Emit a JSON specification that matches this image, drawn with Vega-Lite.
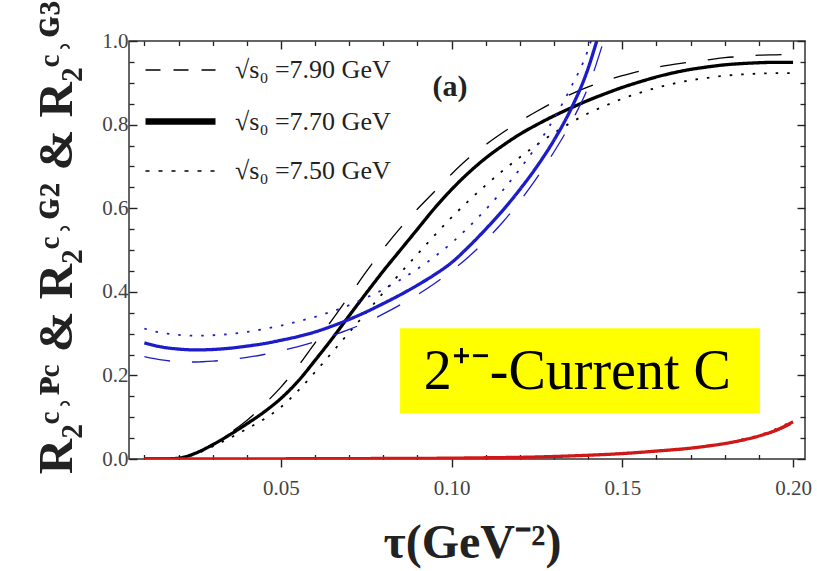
{
  "$schema": "https://vega.github.io/schema/vega-lite/v6.json",
  "width": 676,
  "height": 418,
  "autosize": "none",
  "padding": {"left": 129, "top": 41, "right": 12, "bottom": 112},
  "background": "white",
  "config": {
    "view": {"stroke": "#333", "strokeWidth": 1.5},
    "axis": {"grid": false, "domain": false, "labelFont": "Liberation Serif", "labelFontSize": 21, "labelColor": "#444", "titleFont": "Liberation Serif", "titleFontWeight": "bold", "titleColor": "#222"}
  },
  "datasets": {
    "curves": [
      {"x":0.01,"y":0,"c":"black","s":"7.70"},{"x":0.015,"y":0,"c":"black","s":"7.70"},{"x":0.02,"y":0.002,"c":"black","s":"7.70"},{"x":0.025,"y":0.014,"c":"black","s":"7.70"},{"x":0.03,"y":0.034,"c":"black","s":"7.70"},{"x":0.035,"y":0.058,"c":"black","s":"7.70"},{"x":0.04,"y":0.084,"c":"black","s":"7.70"},{"x":0.045,"y":0.112,"c":"black","s":"7.70"},{"x":0.05,"y":0.145,"c":"black","s":"7.70"},{"x":0.055,"y":0.186,"c":"black","s":"7.70"},{"x":0.06,"y":0.236,"c":"black","s":"7.70"},{"x":0.065,"y":0.288,"c":"black","s":"7.70"},{"x":0.07,"y":0.343,"c":"black","s":"7.70"},{"x":0.075,"y":0.397,"c":"black","s":"7.70"},{"x":0.08,"y":0.45,"c":"black","s":"7.70"},{"x":0.085,"y":0.5,"c":"black","s":"7.70"},{"x":0.09,"y":0.55,"c":"black","s":"7.70"},{"x":0.095,"y":0.6,"c":"black","s":"7.70"},{"x":0.1,"y":0.645,"c":"black","s":"7.70"},{"x":0.105,"y":0.685,"c":"black","s":"7.70"},{"x":0.11,"y":0.72,"c":"black","s":"7.70"},{"x":0.115,"y":0.75,"c":"black","s":"7.70"},{"x":0.12,"y":0.777,"c":"black","s":"7.70"},{"x":0.125,"y":0.8,"c":"black","s":"7.70"},{"x":0.13,"y":0.821,"c":"black","s":"7.70"},{"x":0.135,"y":0.84,"c":"black","s":"7.70"},{"x":0.14,"y":0.858,"c":"black","s":"7.70"},{"x":0.145,"y":0.874,"c":"black","s":"7.70"},{"x":0.15,"y":0.889,"c":"black","s":"7.70"},{"x":0.155,"y":0.902,"c":"black","s":"7.70"},{"x":0.16,"y":0.914,"c":"black","s":"7.70"},{"x":0.165,"y":0.924,"c":"black","s":"7.70"},{"x":0.17,"y":0.932,"c":"black","s":"7.70"},{"x":0.175,"y":0.938,"c":"black","s":"7.70"},{"x":0.18,"y":0.943,"c":"black","s":"7.70"},{"x":0.185,"y":0.946,"c":"black","s":"7.70"},{"x":0.19,"y":0.948,"c":"black","s":"7.70"},{"x":0.195,"y":0.949,"c":"black","s":"7.70"},{"x":0.2,"y":0.949,"c":"black","s":"7.70"},

      {"x":0.01,"y":0,"c":"black","s":"7.90"},{"x":0.015,"y":0,"c":"black","s":"7.90"},{"x":0.02,"y":0.002,"c":"black","s":"7.90"},{"x":0.025,"y":0.015,"c":"black","s":"7.90"},{"x":0.03,"y":0.036,"c":"black","s":"7.90"},{"x":0.035,"y":0.062,"c":"black","s":"7.90"},{"x":0.04,"y":0.092,"c":"black","s":"7.90"},{"x":0.045,"y":0.13,"c":"black","s":"7.90"},{"x":0.05,"y":0.172,"c":"black","s":"7.90"},{"x":0.055,"y":0.222,"c":"black","s":"7.90"},{"x":0.06,"y":0.278,"c":"black","s":"7.90"},{"x":0.065,"y":0.333,"c":"black","s":"7.90"},{"x":0.07,"y":0.39,"c":"black","s":"7.90"},{"x":0.075,"y":0.448,"c":"black","s":"7.90"},{"x":0.08,"y":0.503,"c":"black","s":"7.90"},{"x":0.085,"y":0.553,"c":"black","s":"7.90"},{"x":0.09,"y":0.598,"c":"black","s":"7.90"},{"x":0.095,"y":0.64,"c":"black","s":"7.90"},{"x":0.1,"y":0.682,"c":"black","s":"7.90"},{"x":0.105,"y":0.72,"c":"black","s":"7.90"},{"x":0.11,"y":0.752,"c":"black","s":"7.90"},{"x":0.115,"y":0.781,"c":"black","s":"7.90"},{"x":0.12,"y":0.808,"c":"black","s":"7.90"},{"x":0.125,"y":0.832,"c":"black","s":"7.90"},{"x":0.13,"y":0.854,"c":"black","s":"7.90"},{"x":0.135,"y":0.873,"c":"black","s":"7.90"},{"x":0.14,"y":0.89,"c":"black","s":"7.90"},{"x":0.145,"y":0.905,"c":"black","s":"7.90"},{"x":0.15,"y":0.917,"c":"black","s":"7.90"},{"x":0.155,"y":0.928,"c":"black","s":"7.90"},{"x":0.16,"y":0.937,"c":"black","s":"7.90"},{"x":0.165,"y":0.944,"c":"black","s":"7.90"},{"x":0.17,"y":0.95,"c":"black","s":"7.90"},{"x":0.175,"y":0.955,"c":"black","s":"7.90"},{"x":0.18,"y":0.96,"c":"black","s":"7.90"},{"x":0.185,"y":0.963,"c":"black","s":"7.90"},{"x":0.19,"y":0.966,"c":"black","s":"7.90"},{"x":0.195,"y":0.967,"c":"black","s":"7.90"},{"x":0.2,"y":0.968,"c":"black","s":"7.90"},

      {"x":0.01,"y":0,"c":"black","s":"7.50"},{"x":0.015,"y":0,"c":"black","s":"7.50"},{"x":0.02,"y":0.002,"c":"black","s":"7.50"},{"x":0.025,"y":0.012,"c":"black","s":"7.50"},{"x":0.03,"y":0.03,"c":"black","s":"7.50"},{"x":0.035,"y":0.05,"c":"black","s":"7.50"},{"x":0.04,"y":0.072,"c":"black","s":"7.50"},{"x":0.045,"y":0.095,"c":"black","s":"7.50"},{"x":0.05,"y":0.124,"c":"black","s":"7.50"},{"x":0.055,"y":0.163,"c":"black","s":"7.50"},{"x":0.06,"y":0.208,"c":"black","s":"7.50"},{"x":0.065,"y":0.255,"c":"black","s":"7.50"},{"x":0.07,"y":0.303,"c":"black","s":"7.50"},{"x":0.075,"y":0.35,"c":"black","s":"7.50"},{"x":0.08,"y":0.398,"c":"black","s":"7.50"},{"x":0.085,"y":0.445,"c":"black","s":"7.50"},{"x":0.09,"y":0.49,"c":"black","s":"7.50"},{"x":0.095,"y":0.535,"c":"black","s":"7.50"},{"x":0.1,"y":0.578,"c":"black","s":"7.50"},{"x":0.105,"y":0.618,"c":"black","s":"7.50"},{"x":0.11,"y":0.655,"c":"black","s":"7.50"},{"x":0.115,"y":0.69,"c":"black","s":"7.50"},{"x":0.12,"y":0.722,"c":"black","s":"7.50"},{"x":0.125,"y":0.752,"c":"black","s":"7.50"},{"x":0.13,"y":0.78,"c":"black","s":"7.50"},{"x":0.135,"y":0.805,"c":"black","s":"7.50"},{"x":0.14,"y":0.827,"c":"black","s":"7.50"},{"x":0.145,"y":0.845,"c":"black","s":"7.50"},{"x":0.15,"y":0.862,"c":"black","s":"7.50"},{"x":0.155,"y":0.876,"c":"black","s":"7.50"},{"x":0.16,"y":0.888,"c":"black","s":"7.50"},{"x":0.165,"y":0.898,"c":"black","s":"7.50"},{"x":0.17,"y":0.906,"c":"black","s":"7.50"},{"x":0.175,"y":0.912,"c":"black","s":"7.50"},{"x":0.18,"y":0.917,"c":"black","s":"7.50"},{"x":0.185,"y":0.92,"c":"black","s":"7.50"},{"x":0.19,"y":0.922,"c":"black","s":"7.50"},{"x":0.195,"y":0.923,"c":"black","s":"7.50"},{"x":0.2,"y":0.923,"c":"black","s":"7.50"},

      {"x":0.01,"y":0.278,"c":"blue","s":"7.70"},{"x":0.015,"y":0.268,"c":"blue","s":"7.70"},{"x":0.02,"y":0.263,"c":"blue","s":"7.70"},{"x":0.025,"y":0.261,"c":"blue","s":"7.70"},{"x":0.03,"y":0.262,"c":"blue","s":"7.70"},{"x":0.035,"y":0.265,"c":"blue","s":"7.70"},{"x":0.04,"y":0.27,"c":"blue","s":"7.70"},{"x":0.045,"y":0.276,"c":"blue","s":"7.70"},{"x":0.05,"y":0.284,"c":"blue","s":"7.70"},{"x":0.055,"y":0.293,"c":"blue","s":"7.70"},{"x":0.06,"y":0.304,"c":"blue","s":"7.70"},{"x":0.065,"y":0.318,"c":"blue","s":"7.70"},{"x":0.07,"y":0.334,"c":"blue","s":"7.70"},{"x":0.075,"y":0.352,"c":"blue","s":"7.70"},{"x":0.08,"y":0.372,"c":"blue","s":"7.70"},{"x":0.085,"y":0.393,"c":"blue","s":"7.70"},{"x":0.09,"y":0.416,"c":"blue","s":"7.70"},{"x":0.095,"y":0.441,"c":"blue","s":"7.70"},{"x":0.1,"y":0.47,"c":"blue","s":"7.70"},{"x":0.105,"y":0.508,"c":"blue","s":"7.70"},{"x":0.11,"y":0.55,"c":"blue","s":"7.70"},{"x":0.115,"y":0.595,"c":"blue","s":"7.70"},{"x":0.12,"y":0.645,"c":"blue","s":"7.70"},{"x":0.125,"y":0.7,"c":"blue","s":"7.70"},{"x":0.13,"y":0.763,"c":"blue","s":"7.70"},{"x":0.135,"y":0.838,"c":"blue","s":"7.70"},{"x":0.14,"y":0.935,"c":"blue","s":"7.70"},{"x":0.1425,"y":1.0,"c":"blue","s":"7.70"},

      {"x":0.01,"y":0.312,"c":"blue","s":"7.50"},{"x":0.015,"y":0.302,"c":"blue","s":"7.50"},{"x":0.02,"y":0.297,"c":"blue","s":"7.50"},{"x":0.025,"y":0.295,"c":"blue","s":"7.50"},{"x":0.03,"y":0.296,"c":"blue","s":"7.50"},{"x":0.035,"y":0.299,"c":"blue","s":"7.50"},{"x":0.04,"y":0.304,"c":"blue","s":"7.50"},{"x":0.045,"y":0.311,"c":"blue","s":"7.50"},{"x":0.05,"y":0.319,"c":"blue","s":"7.50"},{"x":0.055,"y":0.329,"c":"blue","s":"7.50"},{"x":0.06,"y":0.34,"c":"blue","s":"7.50"},{"x":0.065,"y":0.353,"c":"blue","s":"7.50"},{"x":0.07,"y":0.368,"c":"blue","s":"7.50"},{"x":0.075,"y":0.386,"c":"blue","s":"7.50"},{"x":0.08,"y":0.406,"c":"blue","s":"7.50"},{"x":0.085,"y":0.429,"c":"blue","s":"7.50"},{"x":0.09,"y":0.455,"c":"blue","s":"7.50"},{"x":0.095,"y":0.484,"c":"blue","s":"7.50"},{"x":0.1,"y":0.517,"c":"blue","s":"7.50"},{"x":0.105,"y":0.555,"c":"blue","s":"7.50"},{"x":0.11,"y":0.597,"c":"blue","s":"7.50"},{"x":0.115,"y":0.643,"c":"blue","s":"7.50"},{"x":0.12,"y":0.694,"c":"blue","s":"7.50"},{"x":0.125,"y":0.75,"c":"blue","s":"7.50"},{"x":0.13,"y":0.815,"c":"blue","s":"7.50"},{"x":0.135,"y":0.89,"c":"blue","s":"7.50"},{"x":0.14,"y":0.98,"c":"blue","s":"7.50"},{"x":0.1408,"y":1.0,"c":"blue","s":"7.50"},

      {"x":0.01,"y":0.245,"c":"blue","s":"7.90"},{"x":0.015,"y":0.237,"c":"blue","s":"7.90"},{"x":0.02,"y":0.233,"c":"blue","s":"7.90"},{"x":0.025,"y":0.232,"c":"blue","s":"7.90"},{"x":0.03,"y":0.234,"c":"blue","s":"7.90"},{"x":0.035,"y":0.238,"c":"blue","s":"7.90"},{"x":0.04,"y":0.243,"c":"blue","s":"7.90"},{"x":0.045,"y":0.25,"c":"blue","s":"7.90"},{"x":0.05,"y":0.259,"c":"blue","s":"7.90"},{"x":0.055,"y":0.269,"c":"blue","s":"7.90"},{"x":0.06,"y":0.281,"c":"blue","s":"7.90"},{"x":0.065,"y":0.295,"c":"blue","s":"7.90"},{"x":0.07,"y":0.31,"c":"blue","s":"7.90"},{"x":0.075,"y":0.327,"c":"blue","s":"7.90"},{"x":0.08,"y":0.347,"c":"blue","s":"7.90"},{"x":0.085,"y":0.369,"c":"blue","s":"7.90"},{"x":0.09,"y":0.393,"c":"blue","s":"7.90"},{"x":0.095,"y":0.42,"c":"blue","s":"7.90"},{"x":0.1,"y":0.45,"c":"blue","s":"7.90"},{"x":0.105,"y":0.484,"c":"blue","s":"7.90"},{"x":0.11,"y":0.523,"c":"blue","s":"7.90"},{"x":0.115,"y":0.567,"c":"blue","s":"7.90"},{"x":0.12,"y":0.617,"c":"blue","s":"7.90"},{"x":0.125,"y":0.673,"c":"blue","s":"7.90"},{"x":0.13,"y":0.735,"c":"blue","s":"7.90"},{"x":0.135,"y":0.805,"c":"blue","s":"7.90"},{"x":0.14,"y":0.89,"c":"blue","s":"7.90"},{"x":0.1445,"y":1.0,"c":"blue","s":"7.90"},

      {"x":0.01,"y":0,"c":"red","s":"7.70"},{"x":0.03,"y":0,"c":"red","s":"7.70"},{"x":0.05,"y":0.0005,"c":"red","s":"7.70"},{"x":0.07,"y":0.001,"c":"red","s":"7.70"},{"x":0.09,"y":0.0015,"c":"red","s":"7.70"},{"x":0.1,"y":0.002,"c":"red","s":"7.70"},{"x":0.11,"y":0.003,"c":"red","s":"7.70"},{"x":0.12,"y":0.004,"c":"red","s":"7.70"},{"x":0.13,"y":0.006,"c":"red","s":"7.70"},{"x":0.14,"y":0.009,"c":"red","s":"7.70"},{"x":0.15,"y":0.013,"c":"red","s":"7.70"},{"x":0.16,"y":0.019,"c":"red","s":"7.70"},{"x":0.17,"y":0.026,"c":"red","s":"7.70"},{"x":0.175,"y":0.031,"c":"red","s":"7.70"},{"x":0.18,"y":0.037,"c":"red","s":"7.70"},{"x":0.185,"y":0.045,"c":"red","s":"7.70"},{"x":0.19,"y":0.055,"c":"red","s":"7.70"},{"x":0.195,"y":0.069,"c":"red","s":"7.70"},{"x":0.2,"y":0.089,"c":"red","s":"7.70"},

      {"x":0.01,"y":0,"c":"red","s":"7.90"},{"x":0.03,"y":0,"c":"red","s":"7.90"},{"x":0.05,"y":0.0005,"c":"red","s":"7.90"},{"x":0.07,"y":0.001,"c":"red","s":"7.90"},{"x":0.09,"y":0.0015,"c":"red","s":"7.90"},{"x":0.1,"y":0.002,"c":"red","s":"7.90"},{"x":0.11,"y":0.003,"c":"red","s":"7.90"},{"x":0.12,"y":0.004,"c":"red","s":"7.90"},{"x":0.13,"y":0.006,"c":"red","s":"7.90"},{"x":0.14,"y":0.009,"c":"red","s":"7.90"},{"x":0.15,"y":0.013,"c":"red","s":"7.90"},{"x":0.16,"y":0.018,"c":"red","s":"7.90"},{"x":0.17,"y":0.025,"c":"red","s":"7.90"},{"x":0.175,"y":0.03,"c":"red","s":"7.90"},{"x":0.18,"y":0.036,"c":"red","s":"7.90"},{"x":0.185,"y":0.043,"c":"red","s":"7.90"},{"x":0.19,"y":0.053,"c":"red","s":"7.90"},{"x":0.195,"y":0.066,"c":"red","s":"7.90"},{"x":0.2,"y":0.085,"c":"red","s":"7.90"},

      {"x":0.01,"y":0,"c":"red","s":"7.50"},{"x":0.03,"y":0,"c":"red","s":"7.50"},{"x":0.05,"y":0.0005,"c":"red","s":"7.50"},{"x":0.07,"y":0.001,"c":"red","s":"7.50"},{"x":0.09,"y":0.0015,"c":"red","s":"7.50"},{"x":0.1,"y":0.002,"c":"red","s":"7.50"},{"x":0.11,"y":0.003,"c":"red","s":"7.50"},{"x":0.12,"y":0.004,"c":"red","s":"7.50"},{"x":0.13,"y":0.006,"c":"red","s":"7.50"},{"x":0.14,"y":0.009,"c":"red","s":"7.50"},{"x":0.15,"y":0.014,"c":"red","s":"7.50"},{"x":0.16,"y":0.02,"c":"red","s":"7.50"},{"x":0.17,"y":0.027,"c":"red","s":"7.50"},{"x":0.175,"y":0.032,"c":"red","s":"7.50"},{"x":0.18,"y":0.038,"c":"red","s":"7.50"},{"x":0.185,"y":0.047,"c":"red","s":"7.50"},{"x":0.19,"y":0.057,"c":"red","s":"7.50"},{"x":0.195,"y":0.072,"c":"red","s":"7.50"},{"x":0.2,"y":0.092,"c":"red","s":"7.50"}
    ],
    "box": [{"x1": 0.0849, "x2": 0.1903, "y1": 0.110, "y2": 0.313}],
    "note": [{"x": 0.1368, "y": 0.1675, "label": "2⁺⁻-Current C"}],
    "panel": [{"x": 0.0995, "y": 0.89, "label": "(a)"}]
  },
  "layer": [
    {
      "data": {"name": "box"},
      "mark": {"type": "rect", "color": "#ffff00"},
      "encoding": {
        "x": {"field": "x1", "type": "quantitative", "scale": {"domain": [0.0055, 0.2035], "nice": false, "zero": false},
              "axis": {"orient": "top", "values": [0.05, 0.1, 0.15, 0.2], "labels": false, "title": null, "ticks": true, "tickColor": "#222", "tickWidth": 1.4, "tickSize": 8, "offset": -8}},
        "x2": {"field": "x2"},
        "y": {"field": "y1", "type": "quantitative", "scale": {"domain": [0, 1], "nice": false, "zero": false},
              "axis": {"orient": "right", "values": [0, 0.2, 0.4, 0.6, 0.8, 1.0], "labels": false, "title": null, "ticks": true, "tickColor": "#222", "tickWidth": 1.4, "tickSize": 8, "offset": -8, "zindex": 2}},
        "y2": {"field": "y2"}
      }
    },
    {
      "data": {"name": "curves"},
      "mark": {"type": "line", "clip": true, "interpolate": "monotone"},
      "encoding": {
        "x": {"field": "x", "type": "quantitative", "scale": {"domain": [0.0055, 0.2035], "nice": false, "zero": false},
              "axis": {"orient": "bottom", "values": [0.05, 0.1, 0.15, 0.2], "format": ".2f", "ticks": true, "tickColor": "#222", "tickWidth": 1.4, "tickSize": 8, "labelPadding": 10,
                       "title": "τ(GeV⁻²)", "titleFontSize": 48, "titleX": 343, "titleY": 98, "titleBaseline": "alphabetic", "titleAlign": "center"}},
        "y": {"field": "y", "type": "quantitative", "scale": {"domain": [0, 1], "nice": false, "zero": false},
              "axis": {"orient": "left", "values": [0, 0.2, 0.4, 0.6, 0.8, 1.0], "format": ".1f", "ticks": true, "tickColor": "#222", "tickWidth": 1.4, "tickSize": -8, "labelPadding": 9, "zindex": 2,
                       "title": "R₂ᶜ˒ᴾᶜ & R₂ᶜ˒ᴳ² & R₂ᶜ˒ᴳ³", "titleFontSize": 49, "titleX": -73, "titleY": 196, "titleAngle": -90, "titleBaseline": "middle", "titleAlign": "center"}},
        "color": {"field": "c", "type": "nominal", "scale": {"domain": ["black", "blue", "red"], "range": ["#000000", "#1c1cc8", "#d01818"]}, "legend": null},
        "strokeDash": {"field": "s", "type": "nominal", "scale": {"domain": ["7.90", "7.70", "7.50"], "range": [[26, 22], [1, 0], [2.5, 9]]}, "legend": null},
        "strokeWidth": {"field": "s", "type": "ordinal", "scale": {"type": "ordinal", "domain": ["7.90", "7.70", "7.50"], "range": [1.3, 3.3, 1.8]}, "legend": null}
      }
    },
    {
      "data": {"name": "curves"},
      "transform": [{"filter": "datum.c === 'legendonly'"}],
      "mark": {"type": "line", "color": "#000"},
      "encoding": {
        "x": {"field": "x", "type": "quantitative", "scale": {"domain": [0.0055, 0.2035], "nice": false, "zero": false}, "axis": null},
        "y": {"field": "y", "type": "quantitative", "scale": {"domain": [0, 1], "nice": false, "zero": false}, "axis": null},
        "strokeDash": {"field": "s", "type": "nominal", "scale": {"domain": ["7.90", "7.70", "7.50"], "range": [[15, 13], [1, 0], [4, 9]]},
                       "legend": {"orient": "none", "legendX": 13, "legendY": -7, "title": null, "padding": 0, "symbolType": "stroke", "symbolSize": 4900,
                                  "symbolStrokeColor": "#000", "labelExpr": "'√s₀ =' + datum.label + ' GeV'", "labelFont": "Liberation Serif", "labelFontSize": 26,
                                  "labelColor": "#222", "labelOffset": 16, "labelLimit": 400, "rowPadding": -12}},
        "strokeWidth": {"field": "s", "type": "ordinal", "scale": {"type": "ordinal", "domain": ["7.90", "7.70", "7.50"], "range": [1.5, 6.5, 1.5]},
                       "legend": {"orient": "none", "legendX": 13, "legendY": -7, "title": null, "padding": 0, "symbolType": "stroke", "symbolSize": 4900,
                                  "symbolStrokeColor": "#000", "labelExpr": "'√s₀ =' + datum.label + ' GeV'", "labelFont": "Liberation Serif", "labelFontSize": 26,
                                  "labelColor": "#222", "labelOffset": 16, "labelLimit": 400, "rowPadding": -12}}
      }
    },
    {
      "data": {"name": "note"},
      "mark": {"type": "text", "font": "Liberation Serif", "fontSize": 56, "align": "center", "baseline": "alphabetic", "color": "#000"},
      "encoding": {
        "x": {"field": "x", "type": "quantitative", "scale": {"domain": [0.0055, 0.2035], "nice": false, "zero": false},
              "axis": {"orient": "bottom", "values": [0.01, 0.02, 0.03, 0.04, 0.06, 0.07, 0.08, 0.09, 0.11, 0.12, 0.13, 0.14, 0.16, 0.17, 0.18, 0.19], "labels": false, "title": null, "ticks": true, "tickColor": "#222", "tickWidth": 1.3, "tickSize": -4.5}},
        "y": {"field": "y", "type": "quantitative", "scale": {"domain": [0, 1], "nice": false, "zero": false},
              "axis": {"orient": "left", "values": [0.05, 0.1, 0.15, 0.25, 0.3, 0.35, 0.45, 0.5, 0.55, 0.65, 0.7, 0.75, 0.85, 0.9, 0.95], "labels": false, "title": null, "ticks": true, "tickColor": "#222", "tickWidth": 1.3, "tickSize": -5}},
        "text": {"field": "label"}
      }
    },
    {
      "data": {"name": "panel"},
      "mark": {"type": "text", "font": "Liberation Serif", "fontSize": 30, "fontWeight": "bold", "align": "center", "baseline": "middle", "color": "#222"},
      "encoding": {
        "x": {"field": "x", "type": "quantitative", "scale": {"domain": [0.0055, 0.2035], "nice": false, "zero": false},
              "axis": {"orient": "top", "values": [0.01, 0.02, 0.03, 0.04, 0.06, 0.07, 0.08, 0.09, 0.11, 0.12, 0.13, 0.14, 0.16, 0.17, 0.18, 0.19], "labels": false, "title": null, "ticks": true, "tickColor": "#222", "tickWidth": 1.3, "tickSize": -4.5}},
        "y": {"field": "y", "type": "quantitative", "scale": {"domain": [0, 1], "nice": false, "zero": false},
              "axis": {"orient": "right", "values": [0.05, 0.1, 0.15, 0.25, 0.3, 0.35, 0.45, 0.5, 0.55, 0.65, 0.7, 0.75, 0.85, 0.9, 0.95], "labels": false, "title": null, "ticks": true, "tickColor": "#222", "tickWidth": 1.3, "tickSize": -5}},
        "text": {"field": "label"}
      }
    }
  ],
  "resolve": {
    "axis": {"x": "independent", "y": "independent"},
    "scale": {"strokeDash": "independent", "strokeWidth": "independent"}
  }
}
